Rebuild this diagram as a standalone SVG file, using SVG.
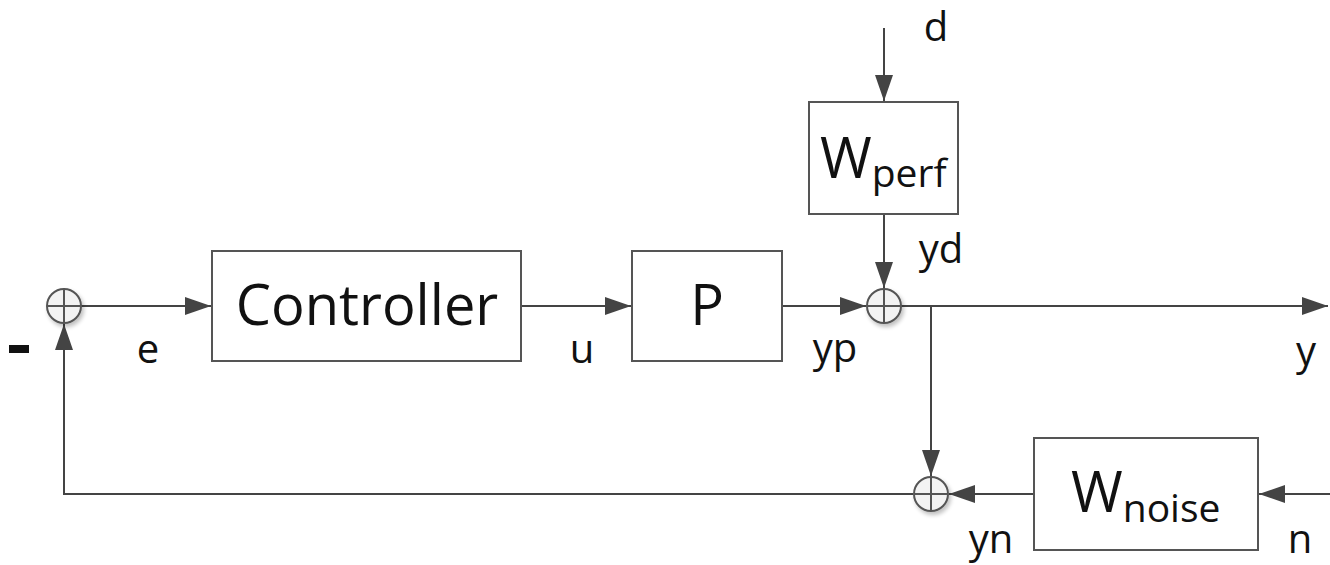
<svg xmlns="http://www.w3.org/2000/svg" width="1330" height="565" viewBox="0 0 1330 565">
<style>
.box{fill:#fff;stroke:#555;stroke-width:2}
.sum{fill:#f3f3f3;stroke:#555;stroke-width:2}
.cross{stroke:#555;stroke-width:2}
.ln{fill:none;stroke:#444;stroke-width:2;marker-end:url(#ah)}
text{font-family:"Open Sans","Noto Sans","Liberation Sans",sans-serif;fill:#111}
.lbl{font-size:40px}
.big{font-size:56px}
.sub{font-size:39px}
</style>
<defs>
<marker id="ah" viewBox="0 0 26 18" refX="26" refY="9" markerWidth="26" markerHeight="18" markerUnits="userSpaceOnUse" orient="auto">
<path d="M0,0 L26,9 L0,18 Z" fill="#444"/>
</marker>
<filter id="sh" x="-50%" y="-50%" width="200%" height="200%">
<feGaussianBlur in="SourceAlpha" stdDeviation="2"/>
<feOffset dx="2" dy="3"/>
<feComponentTransfer><feFuncA type="linear" slope="0.25"/></feComponentTransfer>
<feMerge><feMergeNode/><feMergeNode in="SourceGraphic"/></feMerge>
</filter>
</defs>
<g id="connectors">
<path class="ln" d="M81,306 L211,306"/>
<path class="ln" d="M521,306 L631,306"/>
<path class="ln" d="M782,306 L866,306"/>
<path class="ln" d="M884,28 L884,101"/>
<path class="ln" d="M884,214 L884,288"/>
<path class="ln" d="M901,306 L1328,306"/>
<path class="ln" d="M931,306 L931,476"/>
<path class="ln" d="M1330,494 L1259,494"/>
<path class="ln" d="M1034,494 L949,494"/>
<path class="ln" d="M913,494 L64,494 L64,324"/>
</g>
<g id="sum1" filter="url(#sh)"><circle class="sum" cx="64" cy="306" r="17"/><path class="cross" d="M47,306 H81 M64,289 V323"/></g>
<g id="sum2" filter="url(#sh)"><circle class="sum" cx="884" cy="306" r="17"/><path class="cross" d="M867,306 H901 M884,289 V323"/></g>
<g id="sum3" filter="url(#sh)"><circle class="sum" cx="931" cy="494" r="17"/><path class="cross" d="M914,494 H948 M931,477 V511"/></g>
<g id="controller"><rect class="box" x="212" y="251" width="309" height="110"/><text class="big" x="367" y="325" text-anchor="middle">Controller</text></g>
<g id="plant"><rect class="box" x="632" y="251" width="150" height="110"/><text class="big" x="707" y="325" text-anchor="middle">P</text></g>
<g id="wperf"><rect class="box" x="809" y="102" width="149" height="112"/><text class="big" x="820" y="178">W<tspan class="sub" dy="9">perf</tspan></text></g>
<g id="wnoise"><rect class="box" x="1034" y="438" width="224" height="112"/><text class="big" x="1071" y="512">W<tspan class="sub" dy="10">noise</tspan></text></g>
<g id="labels">
<rect x="9" y="345" width="20" height="8" fill="#111"/>
<text class="lbl" x="148" y="363" text-anchor="middle">e</text>
<text class="lbl" x="582" y="363" text-anchor="middle">u</text>
<text class="lbl" x="835" y="362" text-anchor="middle">yp</text>
<text class="lbl" x="1306" y="365" text-anchor="middle">y</text>
<text class="lbl" x="941" y="263" text-anchor="middle">yd</text>
<text class="lbl" x="936" y="41" text-anchor="middle">d</text>
<text class="lbl" x="991" y="553" text-anchor="middle">yn</text>
<text class="lbl" x="1300" y="553" text-anchor="middle">n</text>
</g>
</svg>
